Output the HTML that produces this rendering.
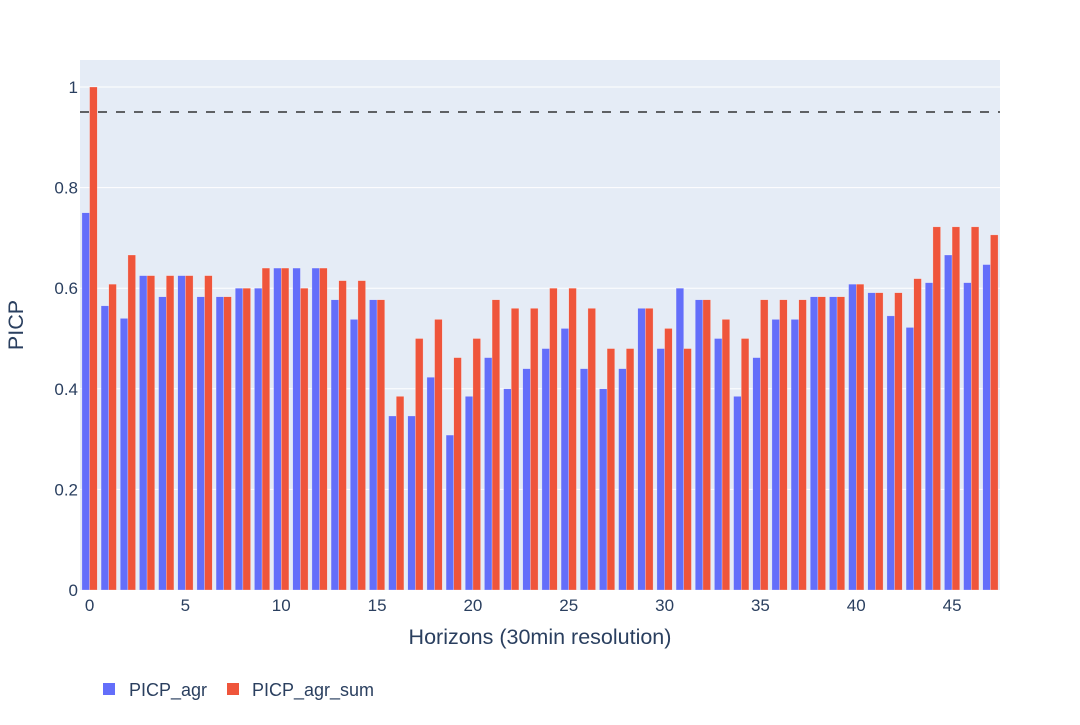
<!DOCTYPE html>
<html><head><meta charset="utf-8"><style>
body{margin:0;background:#fff;}
svg text{font-family:"Liberation Sans",Arial,sans-serif;fill:#2a3f5f;}
</style></head><body>
<svg id="chart" width="1080" height="720" xmlns="http://www.w3.org/2000/svg">
<rect x="80" y="60" width="920" height="530" fill="#e5ecf6"/>
<g id="grid"></g><g id="bars"></g><g id="ticks"></g>
<line x1="80" x2="1000" y1="112" y2="112" stroke="#333" stroke-width="1.5" stroke-dasharray="9,9"/>
<text x="540" y="644" font-size="21.5" text-anchor="middle">Horizons (30min resolution)</text>
<text transform="translate(23,325) rotate(-90)" font-size="21.5" text-anchor="middle">PICP</text>
<g>
<g><rect x="103" y="683" width="12" height="12" fill="#636efa"/><text x="129" y="696" font-size="18">PICP_agr</text></g>
<g><rect x="227" y="683" width="12" height="12" fill="#ef553b"/><text x="252" y="696" font-size="18">PICP_agr_sum</text></g>
</g>
</svg>
<script>
const agr=[0.75,0.565,0.54,0.625,0.583,0.625,0.583,0.583,0.6,0.6,0.64,0.64,0.64,0.577,0.538,0.577,0.346,0.346,0.423,0.308,0.385,0.462,0.4,0.44,0.48,0.52,0.44,0.4,0.44,0.56,0.48,0.6,0.577,0.5,0.385,0.462,0.538,0.538,0.583,0.583,0.608,0.591,0.545,0.522,0.611,0.666,0.611,0.647];
const agrSum=[1.0,0.608,0.666,0.625,0.625,0.625,0.625,0.583,0.6,0.64,0.64,0.6,0.64,0.615,0.615,0.577,0.385,0.5,0.538,0.462,0.5,0.577,0.56,0.56,0.6,0.6,0.56,0.48,0.48,0.56,0.52,0.48,0.577,0.538,0.5,0.577,0.577,0.577,0.583,0.583,0.608,0.591,0.591,0.619,0.722,0.722,0.722,0.706];
const yTicks=[0,0.2,0.4,0.6,0.8,1];
const yTickLabels=["0","0.2","0.4","0.6","0.8","1"];
const xTicks=[0,5,10,15,20,25,30,35,40,45];
const NS="http://www.w3.org/2000/svg";
const X0=80,X1=1000,Y0=590,Y1=87;
const n=agr.length, bw=(X1-X0)/n;
const xs=i=>X0+(i+0.5)*bw;
const ys=v=>Y0-v*(Y0-Y1);
function mk(t,a,p){const e=document.createElementNS(NS,t);for(const k in a)e.setAttribute(k,a[k]);p.appendChild(e);return e;}
const grid=document.getElementById('grid'),bars=document.getElementById('bars'),ticks=document.getElementById('ticks');
yTicks.forEach((v,i)=>{
  if(v>0){const l=mk('line',{x1:X0,x2:X1,y1:ys(v),y2:ys(v),stroke:'#fff','stroke-width':1},grid);
  
  }
  const t=mk('text',{x:X0-2,y:ys(v)+6,'font-size':17,'text-anchor':'end'},ticks);t.textContent=yTickLabels[i];
  
  
});
xTicks.forEach(v=>{
  const t=mk('text',{x:xs(v),y:611,'font-size':17,'text-anchor':'middle'},ticks);t.textContent=String(v);
  
  
});
const w=bw*0.4;
for(let i=0;i<n;i++){
  const b=mk('rect',{x:xs(i)-w,y:ys(agr[i]),width:w,height:Y0-ys(agr[i]),fill:'#636efa',stroke:'rgba(255,255,255,0.5)','stroke-width':0.5},bars);
  
  
  const r=mk('rect',{x:xs(i),y:ys(agrSum[i]),width:w,height:Y0-ys(agrSum[i]),fill:'#ef553b',stroke:'rgba(255,255,255,0.5)','stroke-width':0.5},bars);
  
  
}
</script>
</body></html>
